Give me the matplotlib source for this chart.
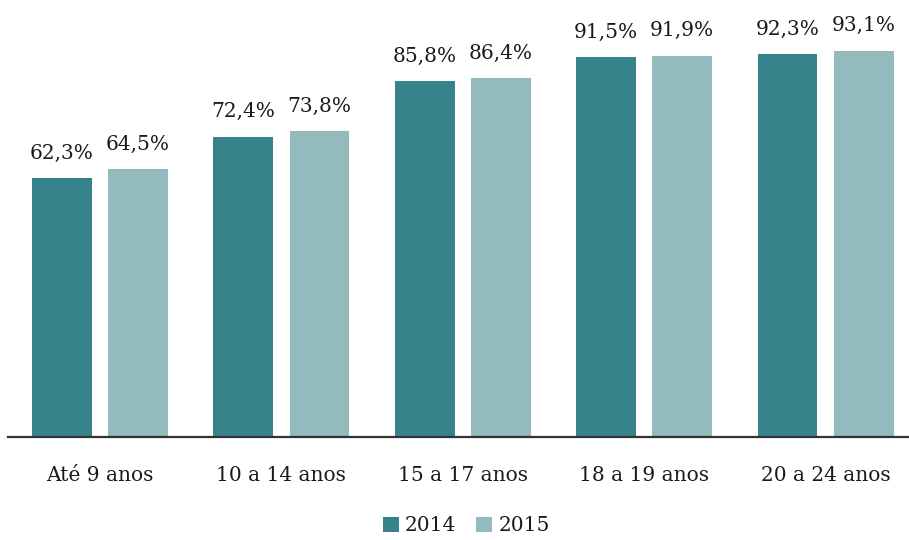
import matplotlib
matplotlib.use("Agg")
import matplotlib.pyplot as plt
import numpy as np

categories = ["Até 9 anos", "10 a 14 anos", "15 a 17 anos", "18 a 19 anos", "20 a 24 anos"]
series_names = ["2014", "2015"]
values_2014 = [62.3, 72.4, 85.8, 91.5, 92.3]
values_2015 = [64.5, 73.8, 86.4, 91.9, 93.1]
colors = ["#37838B", "#93BABD"]

plt.rcParams['font.family'] = ['DejaVu Serif']
FS = 14.5

W, H = 909, 540
fig = plt.figure(figsize=(W / 100, H / 100), dpi=100)
ax_left, ax_right = 8, 909
ax_bottom, ax_top = 437, 22
ax = fig.add_axes([ax_left / W, 1 - ax_bottom / H, (ax_right - ax_left) / W, (ax_bottom - ax_top) / H])

x = np.arange(len(categories))
width = 0.33
offset = 0.21
for vals, col, name, off in [(values_2014, colors[0], series_names[0], -offset),
                             (values_2015, colors[1], series_names[1], offset)]:
    bars = ax.bar(x + off, vals, width=width, color=col, label=name)
    for b, v in zip(bars, vals):
        ax.annotate(f"{v:.1f}%".replace(".", ","), (b.get_x() + b.get_width() / 2, v),
                    xytext=(0, 11), textcoords="offset points", ha="center", va="bottom",
                    fontsize=FS, color="#1a1a1a")

ax.set_ylim(0, 100)
ax.set_xlim(-0.507, 4.46)
ax.set_xticks(x)
ax.set_xticklabels(categories, fontsize=FS, color="#1a1a1a")
ax.tick_params(axis="x", length=0, pad=21)
ax.set_yticks([])
for s in ["top", "right", "left"]:
    ax.spines[s].set_visible(False)
ax.spines["bottom"].set_color("#333333")
ax.spines["bottom"].set_linewidth(1.6)

fig.legend(loc="lower center", bbox_to_anchor=(0.513, -0.025), ncol=2, frameon=False,
           fontsize=FS, handlelength=0.8, handleheight=0.8, handletextpad=0.3,
           columnspacing=1.0, labelcolor="#1a1a1a")

fig.savefig("out.png", dpi=100)
